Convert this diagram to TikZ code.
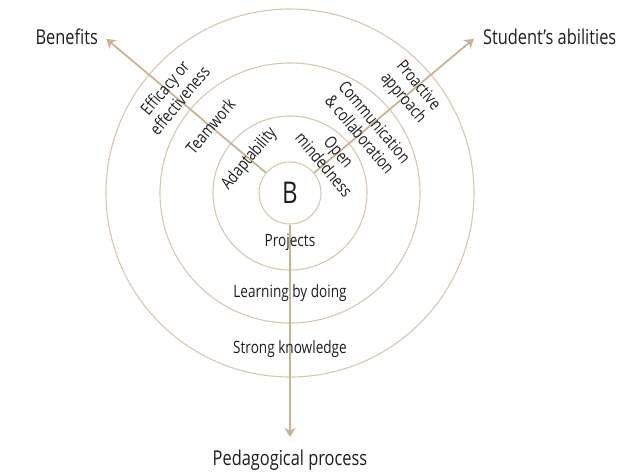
\documentclass[tikz,border=0pt]{standalone}
\usepackage{fontspec}
\setmainfont{Open Sans}[FakeStretch=0.8]
\usetikzlibrary{arrows.meta,positioning}
\definecolor{ring}{RGB}{217,198,175}
\definecolor{ray}{RGB}{203,178,148}
\definecolor{ink}{RGB}{30,30,30}
\tikzset{
  ringline/.style={draw=ring,line width=1.1pt},
  ray/.style={draw=ray,line width=1.8pt,-{Stealth[length=9pt,width=11pt,inset=2.5pt]}},
  tag/.style={text=ink,font=\fontsize{17}{19.5}\selectfont,align=center,inner sep=0pt},
  axis/.style={text=ink,font=\fontsize{20.5}{22}\selectfont,inner sep=0pt}
}

\begin{document}
\begin{tikzpicture}[x=1pt,y=1pt]
  \useasboundingbox (-290,193) rectangle (346,-281);
  \begin{scope}
    \foreach \r in {77,130,184}
      \draw[ringline] (0,0) circle (\r);
    \node[ringline,circle,minimum size=62pt,inner sep=0pt,text=ink,
      font=\fontsize{30}{30}\selectfont] (B) at (0,0) {B};
    \coordinate (benTip) at (140:240);
    \coordinate (stuTip) at (40:240);
    \coordinate (pedTip) at (0,-244);
    \draw[ray] (B.140) -- (benTip);
    \draw[ray] (B.40) -- (stuTip);
    \draw[ray] (B.south) -- (pedTip);
  \end{scope}
  % axis names
  \node[axis,left=8pt of benTip,yshift=2pt] (benefits) {Benefits};
  \node[axis,right=9pt of stuTip,yshift=2pt] (abilities) {Student’s abilities};
  \node[axis,below=13pt of pedTip] (pedagogy) {Pedagogical process};
  % ring labels
  \node[tag,rotate=50] (adapt) at (140:53) {Adaptability};
  \node[tag,rotate=50] (team) at (140:104) {Teamwork};
  \node[tag,rotate=50] (effic) at (140:154) {Efficacy or\\effectiveness};
  \node[tag,rotate=-50] (open) at (40:54) {Open\\mindedness};
  \node[tag,rotate=-50] (comm) at (40:101) {Communication\\\& collaboration};
  \node[tag,rotate=-50] (proact) at (40:157) {Proactive\\approach};
  \node[tag] (proj) at (0,-49) {Projects};
  \node[tag] (learn) at (0,-100) {Learning by doing};
  \node[tag] (strong) at (0,-156) {Strong knowledge};
\end{tikzpicture}
\end{document}
